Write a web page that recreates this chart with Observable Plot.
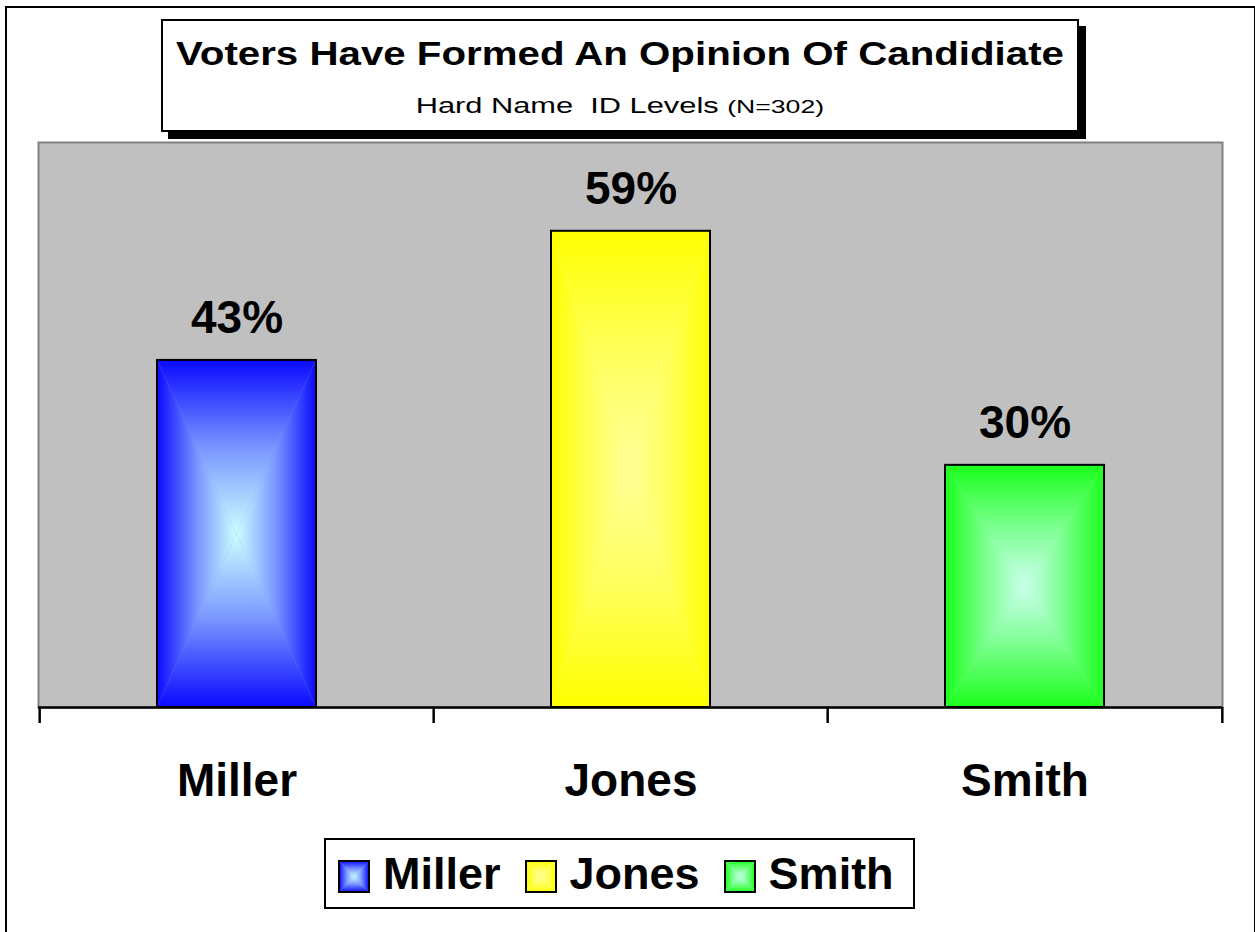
<!DOCTYPE html>
<html>
<head>
<meta charset="utf-8">
<script src="https://cdn.jsdelivr.net/npm/d3@7"></script>
<script src="https://cdn.jsdelivr.net/npm/@observablehq/plot@0.6"></script>
<style>
  html, body { margin: 0; padding: 0; background: #fff; overflow: hidden; }
  body { width: 1255px; height: 932px; position: relative; font-family: "Liberation Sans", Arial, sans-serif; }
  #chart { position: absolute; left: 0; top: 0; }
  #outer { position: absolute; left: 5px; top: 6px; width: 1247px; height: 960px; border: 2px solid #000; pointer-events: none; }
  #titlebox { position: absolute; left: 161px; top: 19px; width: 914px; height: 109px; border: 2px solid #000; background: #fff; box-shadow: 7px 7px 0 #000; text-align: center; }
  #title { position: absolute; left: 0; right: 0; top: 16px; font-size: 33px; font-weight: bold; line-height: 1; white-space: nowrap; }
  #subtitle { position: absolute; left: 0; right: 0; top: 74px; font-size: 22px; line-height: 1; white-space: nowrap; }
  .stretch { display: inline-block; transform: scaleX(1.22); transform-origin: center; }
  #subText { transform: scaleX(1.4); }
  #legend { position: absolute; left: 324px; top: 838px; width: 591px; height: 71px; border: 2px solid #000; background: #fff; display: flex; align-items: center; padding-left: 12px; box-sizing: border-box; }
  .item { display: flex; align-items: center; margin-right: 24px; }
  .item svg { display: block; margin-right: 13px; margin-top: 6px; }
  .item span { font-size: 45px; font-weight: bold; line-height: 1; }
</style>
</head>
<body>
<div id="chart"></div>
<div id="outer"></div>
<div id="titlebox">
  <div id="title"><span class="stretch" id="titleText"></span></div>
  <div id="subtitle"><span class="stretch" id="subText"></span></div>
</div>
<div id="legend"></div>
<script>
// ---- data ----
const categories = ["Miller", "Jones", "Smith"];
const values = [43, 59, 30];
const edgeColors = ["#0a0aff", "#ffff00", "#1aff1a"];
const midColors = ["#7894ff", "#ffff5a", "#78ff8c"];
const centerColors = ["#ccffff", "#ffff99", "#ccffee"];
const titleText = "Voters Have Formed An Opinion Of Candidiate";
const subtitleMain = "Hard Name\u00a0\u00a0ID Levels ";
const subtitleSmall = "(N=302)";
const yDomain = [0, 70];

const data = categories.map((name, i) => ({name, value: values[i], key: "c" + i}));

// ---- layout ----
const W = 1255, H = 932;
const mL = 38, mR = 33, mT = 142, mB = 225;
const step = (W - mL - mR) / categories.length;
const font = "Liberation Sans, Arial, sans-serif";

const plot = Plot.plot({
  width: W,
  height: H,
  marginLeft: mL,
  marginRight: mR,
  marginTop: mT,
  marginBottom: mB,
  style: {fontFamily: font, background: "transparent", overflow: "visible"},
  x: {domain: categories, paddingInner: 0.597, paddingOuter: 0.2985, align: 0.5},
  y: {domain: yDomain, axis: null},
  color: {type: "identity"},
  marks: [
    Plot.frame({fill: "#c0c0c0", stroke: "#808080", strokeWidth: 2}),
    Plot.barY(data, {x: "name", y: "value", fill: d => `url(#pat-${d.key})`, stroke: "#000", strokeWidth: 2}),
    Plot.ruleY([0], {stroke: "#000", strokeWidth: 2.5}),
    Plot.axisX({tickSize: 16, dx: -step / 2, fill: "none", stroke: "#000", strokeWidth: 2.5, tickFormat: () => ""}),
    Plot.axisX({ticks: [categories[categories.length - 1]], tickSize: 16, dx: step / 2, fill: "none", stroke: "#000", strokeWidth: 2.5, tickFormat: () => ""}),
    Plot.axisX({tickSize: 0, tickPadding: 56, fontSize: 46, fontWeight: "bold", fill: "#000", label: null}),
    Plot.text(data, {x: "name", y: "value", text: d => d.value + "%", dy: -27, lineAnchor: "bottom", fontSize: 46, fontWeight: "bold", fill: "#000"})
  ]
});

// gradient patterns (rectangular "from center" shading)
const svg = d3.select(plot);
const defs = svg.insert("defs", ":first-child");
data.forEach((d, i) => {
  const dirs = {
    t: {x1: 0, y1: 0, x2: 0, y2: 1, pts: "0,0 1,0 0.5,0.5"},
    b: {x1: 0, y1: 1, x2: 0, y2: 0, pts: "0,1 1,1 0.5,0.5"},
    l: {x1: 0, y1: 0, x2: 1, y2: 0, pts: "0,0 0,1 0.5,0.5"},
    r: {x1: 1, y1: 0, x2: 0, y2: 0, pts: "1,0 1,1 0.5,0.5"}
  };
  Object.entries(dirs).forEach(([k, g]) => {
    const lg = defs.append("linearGradient").attr("id", `g-${d.key}-${k}`)
      .attr("x1", g.x1).attr("y1", g.y1).attr("x2", g.x2).attr("y2", g.y2);
    lg.append("stop").attr("offset", 0).attr("stop-color", edgeColors[i]);
    lg.append("stop").attr("offset", 0.5).attr("stop-color", midColors[i]);
    lg.append("stop").attr("offset", 1).attr("stop-color", centerColors[i]);
  });
  const pat = defs.append("pattern").attr("id", `pat-${d.key}`)
    .attr("patternUnits", "objectBoundingBox").attr("patternContentUnits", "objectBoundingBox")
    .attr("width", 1).attr("height", 1);
  pat.append("rect").attr("width", 1).attr("height", 1).attr("fill", midColors[i]);
  Object.entries(dirs).forEach(([k, g]) => {
    pat.append("polygon").attr("points", g.pts).attr("fill", `url(#g-${d.key}-${k})`);
  });
});

document.getElementById("chart").appendChild(plot);

// title
document.getElementById("titleText").textContent = titleText;
const sub = document.getElementById("subText");
sub.append(document.createTextNode(subtitleMain));
const small = document.createElement("span");
small.style.fontSize = "19px";
small.textContent = subtitleSmall;
sub.append(small);

// legend
const legend = d3.select("#legend");
data.forEach((d) => {
  const item = legend.append("div").attr("class", "item");
  const s = item.append("svg").attr("width", 32).attr("height", 33);
  s.append("rect").attr("x", 1).attr("y", 1).attr("width", 30).attr("height", 31)
    .attr("fill", `url(#pat-${d.key})`).attr("stroke", "#000").attr("stroke-width", 2);
  item.append("span").text(d.name);
});
</script>
</body>
</html>
